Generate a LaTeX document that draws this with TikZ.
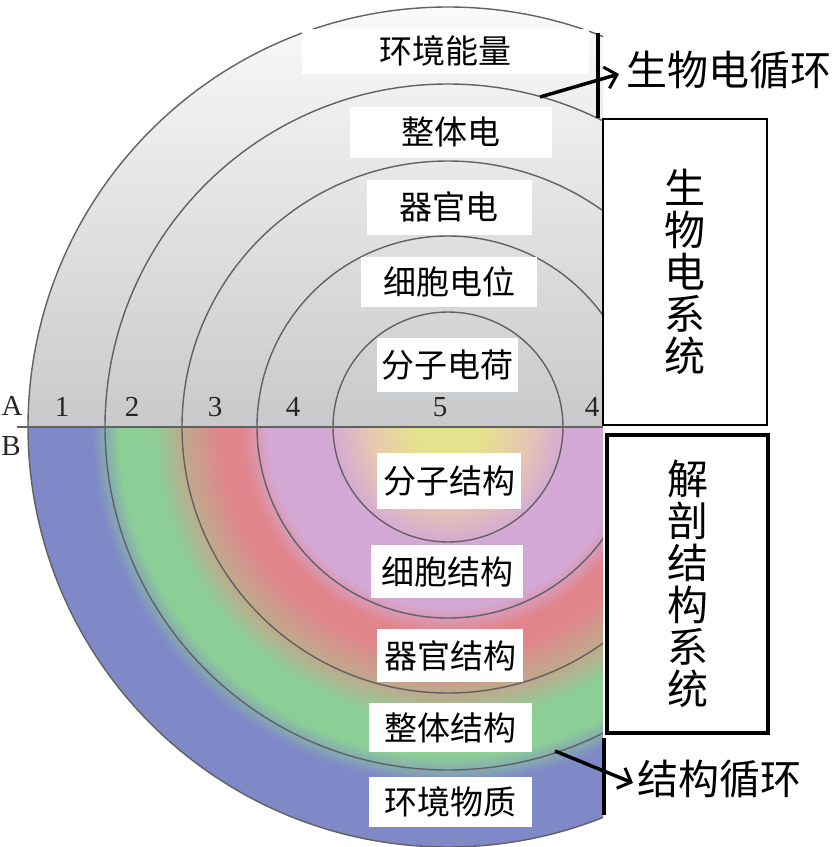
\documentclass[tikz,border=0pt]{standalone}
\usepackage{fontspec}
\setmainfont{Liberation Serif}
\newfontfamily\cjk{Noto Sans CJK SC}
\usetikzlibrary{arrows.meta}
\definecolor{cY}{RGB}{228,226,140}
\definecolor{cP}{RGB}{230,198,178}
\definecolor{cV}{RGB}{212,168,212}
\definecolor{cR}{RGB}{225,133,140}
\definecolor{cT}{RGB}{192,168,140}
\definecolor{cG}{RGB}{140,206,150}
\definecolor{cB}{RGB}{127,137,200}
\definecolor{gTop}{RGB}{250,250,250}
\definecolor{gMid}{RGB}{234,234,234}
\definecolor{gBot}{RGB}{200,201,202}
\pgfdeclareradialshading{bshade}{\pgfpoint{0bp}{0bp}}{color(0bp)=(cY); color(2bp)=(cY); color(4.75bp)=(cP); color(7bp)=(cV); color(10.75bp)=(cV); color(12.25bp)=(cR); color(13.5bp)=(cR); color(15.75bp)=(cT); color(17.5bp)=(cG); color(19.6bp)=(cG); color(21.2bp)=(cB); color(25bp)=(cB); color(50bp)=(cB)}
\begin{document}
\begin{tikzpicture}[x=1pt,y=-1pt,
 lbl/.style={fill=white, inner sep=0pt, font=\cjk\fontsize{33}{33}\selectfont},
 ring/.style={draw=black!62, line width=1.4pt},
 num/.style={font=\fontsize{29}{29}\selectfont, inner sep=0pt, text=black!85},
 sysbox/.style={draw=black, fill=white, inner sep=0pt, align=center, font=\cjk\fontsize{41}{42}\selectfont},
 cyc/.style={font=\cjk\fontsize{41}{41}\selectfont, inner sep=0pt, anchor=west},
 arr/.style={line width=3.5pt, -{Straight Barb[length=11pt,width=22pt,line width=3pt]}},
 bar/.style={line width=4pt}]
\useasboundingbox (0,0) rectangle (835,847);
\coordinate (C) at (448,427);
% upper half: grey gradient
\begin{scope}
\clip (0,0) rectangle (603,427);
\clip (C) circle[radius=420pt];
\shade[top color=gTop, middle color=gMid, bottom color=gBot] (0,7) rectangle (603,427);
\end{scope}
% lower half: coloured rings
\begin{scope}
\clip (0,427) rectangle (603,847);
\shade[shading=bshade] (C) circle[radius=420pt];
\end{scope}
% circles
\begin{scope}
\clip (0,0) rectangle (603,847);
\foreach \r in {115,191,266,343,420} \draw[ring] (C) circle[radius=\r pt];
\end{scope}
% A/B divider
\coordinate (hl) at (17,427);
\coordinate (hr) at (603,427);
\draw[line width=2pt, black!62] (hl) -- (hr);
% labels upper
\node[lbl, minimum width=287pt, minimum height=45pt] (e1) at (445,51) {环境能量};
\node[lbl, minimum width=202pt, minimum height=51pt] (e2) at (451,132) {整体电};
\node[lbl, minimum width=165pt, minimum height=55pt] (e3) at (449,207) {器官电};
\node[lbl, minimum width=176pt, minimum height=50pt] (e4) at (449,282) {细胞电位};
\node[lbl, minimum width=141pt, minimum height=54pt] (e5) at (447,365) {分子电荷};
% labels lower
\node[lbl, minimum width=144pt, minimum height=56pt] (s5) at (449,481) {分子结构};
\node[lbl, minimum width=152pt, minimum height=53pt] (s4) at (447,571.5) {细胞结构};
\node[lbl, minimum width=146pt, minimum height=53pt] (s3) at (450,655.5) {器官结构};
\node[lbl, minimum width=163pt, minimum height=49pt] (s2) at (450.5,727.5) {整体结构};
\node[lbl, minimum width=163pt, minimum height=50pt] (s1) at (450.5,802) {环境物质};
% numbers
\node[num] (nA) at (12,406) {A};
\node[num] (nB) at (11,446) {B};
\node[num] (n1) at (62,407) {1};
\node[num] (n2) at (132,407) {2};
\node[num] (n3) at (215,407) {3};
\node[num] (n4) at (293,407) {4};
\node[num] (n5) at (440,407) {5};
\node[num] (n6) at (592,407) {4};
% system boxes
\node[sysbox, line width=1.2pt, minimum width=164pt, minimum height=306pt] (bio) at (685,272) {生\\物\\电\\系\\统};
\node[sysbox, line width=4pt, minimum width=161pt, minimum height=298pt] (ana) at (687.5,584) {解\\剖\\结\\构\\系\\统};
% cycles
\node[cyc] (bc) at (626,70) {生物电循环};
\node[cyc] (sc) at (637,779) {结构循环};
\coordinate (t1) at (598,33);
\coordinate (t2) at (598,118);
\draw[bar] (t1) -- (t2);
\coordinate (b1) at (604,738);
\coordinate (b2) at (604,815);
\draw[bar] (b1) -- (b2);
\coordinate (a1) at (540,97);
\coordinate (a2) at (619,74);
\draw[arr] (a1) -- (a2);
\coordinate (a3) at (555,751);
\coordinate (a4) at (633,783);
\draw[arr] (a3) -- (a4);
\end{tikzpicture}
\end{document}
